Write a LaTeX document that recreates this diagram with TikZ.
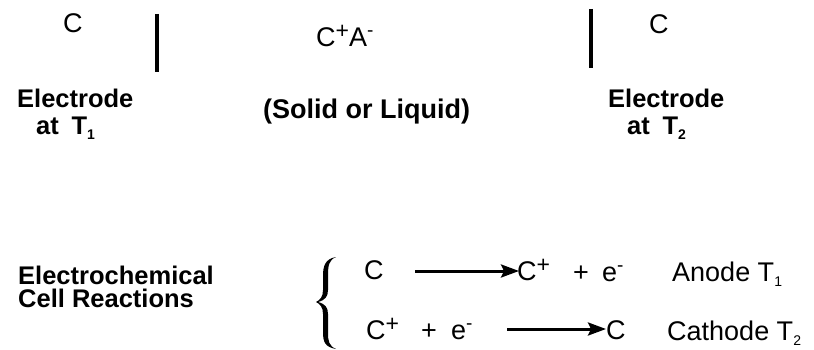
\documentclass[tikz,border=0pt]{standalone}
\usepackage{fontspec}
\setmainfont{Liberation Sans}
\usetikzlibrary{arrows.meta}
\newcommand{\regtxt}{\fontsize{27}{27}\selectfont}
\newcommand{\boldtxt}{\fontsize{25.5}{25.5}\selectfont\bfseries}
\newcommand{\spl}{\raisebox{8pt}{\fontsize{23}{23}\selectfont +}}
\newcommand{\smn}{\raisebox{10pt}{\fontsize{19}{19}\selectfont -}}
\newcommand{\sbx}[1]{\raisebox{-5pt}{\fontsize{14}{14}\selectfont #1}}
\begin{document}
\begin{tikzpicture}[x=1pt,y=-1pt,
  txt/.style={inner sep=0pt,anchor=base west,font=\regtxt},
  btxt/.style={inner sep=0pt,anchor=base west,font=\boldtxt},
  bar/.style={line width=4.5pt},
  rxn/.style={line width=3pt,-{Stealth[length=18pt,width=13pt,inset=3pt]}}]
\useasboundingbox (0,0) rectangle (814,350);
% top row
\node[txt] (cl) at (63,33) {C};
\coordinate (b1t) at (157,14);
\coordinate (b1b) at (157,72);
\draw[bar] (b1t) -- (b1b);
\node[txt] (ca) at (316,47) {C\spl A\smn};
\coordinate (b2t) at (591,9);
\coordinate (b2b) at (591,68);
\draw[bar] (b2t) -- (b2b);
\node[txt] (cr) at (649,34) {C};
% labels
\node[btxt] (el) at (17,108) {Electrode};
\node[btxt] (atl) at (36,135) {at\,\,\,T\sbx{1}};
\node[btxt,font=\fontsize{27}{27}\selectfont\bfseries] (sl) at (263,119) {(Solid or Liquid)};
\node[btxt] (er) at (608,108) {Electrode};
\node[btxt] (atr) at (627,135) {at\,\,\,T\sbx{2}};
% reactions label
\node[btxt] (ec) at (18,284) {Electrochemical};
\node[btxt] (cre) at (18,307) {Cell Reactions};
% brace
\fill (336,257) .. controls (325,259) and (323,266) .. (323,276) -- (323,290)
  .. controls (323,297) and (320,300) .. (316,302)
  .. controls (320,304) and (323,307) .. (323,314) -- (323,332)
  .. controls (323,342) and (325,347) .. (336,349)
  .. controls (329,346) and (328,341) .. (328,333) -- (328,314)
  .. controls (328,307) and (325,304) .. (318,302)
  .. controls (325,300) and (328,297) .. (328,290) -- (328,276)
  .. controls (328,265) and (329,260) .. (336,257) -- cycle;
% row 1
\node[txt] (r1c) at (364,279) {C};
\coordinate (a1s) at (415,271);
\coordinate (a1e) at (519,271);
\draw[rxn] (a1s) -- (a1e);
\node[txt] (r1cp) at (517,280) {C\spl};
\node[txt] (r1p) at (573,281) {+};
\node[txt] (r1e) at (602,281) {e\smn};
\node[txt] (r1a) at (672,281) {Anode T\sbx{1}};
% row 2
\node[txt] (r2cp) at (366,339) {C\spl};
\node[txt] (r2p) at (421,339) {+};
\node[txt] (r2e) at (451,339) {e\smn};
\coordinate (a2s) at (507,329);
\coordinate (a2e) at (606,329);
\draw[rxn] (a2s) -- (a2e);
\node[txt] (r2c) at (606,339) {C};
\node[txt] (r2a) at (667,340) {Cathode T\sbx{2}};
\end{tikzpicture}
\end{document}
